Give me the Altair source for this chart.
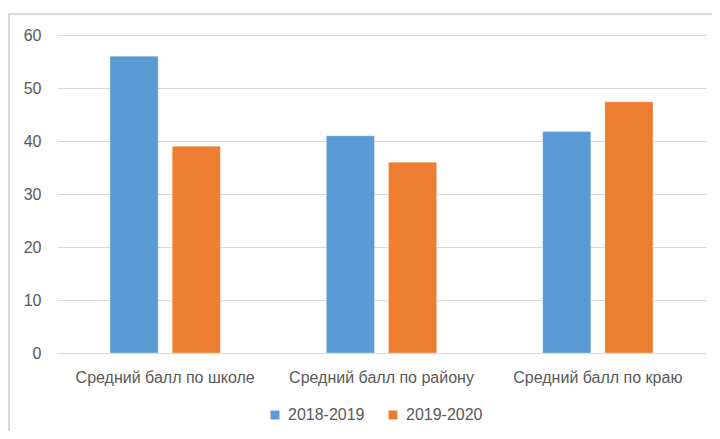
import altair as alt
import pandas as pd

categories = ["Средний балл по школе", "Средний балл по району", "Средний балл по краю"]
series = ["2018-2019", "2019-2020"]
values_2018_2019 = [56, 41, 41.8]
values_2019_2020 = [39, 36, 47.4]
colors = ["#5B9BD5", "#ED7D31"]

rows = []
for c, a, b in zip(categories, values_2018_2019, values_2019_2020):
    rows.append({"cat": c, "series": series[0], "value": a})
    rows.append({"cat": c, "series": series[1], "value": b})
df = pd.DataFrame(rows)

FONT = "Liberation Sans"
GRAY = "#595959"
GRID = "#d9d9d9"
FS = 16

bars = alt.Chart(df).mark_bar(stroke="white", strokeWidth=0.5, strokeOpacity=0.6).encode(
    x=alt.X("cat:N", sort=categories, title=None,
            scale=alt.Scale(paddingInner=0.49, paddingOuter=0.245),
            axis=alt.Axis(labelAngle=0, ticks=False, domain=False, grid=False,
                          labelPadding=16, labelFontSize=FS, labelColor=GRAY,
                          labelFont=FONT, labelLimit=400, labelOverlap=False)),
    xOffset=alt.XOffset("series:N", sort=series,
                        scale=alt.Scale(paddingInner=0.226, paddingOuter=0)),
    y=alt.Y("value:Q", title=None,
            scale=alt.Scale(domain=[0, 60], nice=False),
            axis=alt.Axis(values=[0, 10, 20, 30, 40, 50, 60], ticks=False, domain=False,
                          grid=True, gridColor=GRID, gridWidth=1,
                          labelPadding=16, labelFontSize=FS, labelColor=GRAY,
                          labelFont=FONT)),
    color=alt.Color("series:N", sort=series,
                    scale=alt.Scale(domain=series, range=colors),
                    legend=alt.Legend(title=None, orient="none", direction="horizontal",
                                      legendX=210, legendY=372,
                                      symbolType="square", symbolSize=80,
                                      symbolStrokeWidth=0,
                                      labelFontSize=FS, labelColor=GRAY, labelFont=FONT,
                                      columnPadding=20, labelOffset=5)),
)

frame = alt.Chart(df).mark_rect(fillOpacity=0, stroke=GRID, strokeWidth=2).encode(
    x=alt.value(-48), x2=alt.value(720), y=alt.value(-21), y2=alt.value(460)
)

chart = alt.layer(frame, bars).properties(
    width=649, height=318,
    autosize=alt.AutoSizeParams(type="none"),
    padding={"left": 49, "top": 27, "right": 6, "bottom": 78},
).configure_view(stroke=None)

chart.save("out.html", embed_options={"renderer": "svg", "actions": False})
